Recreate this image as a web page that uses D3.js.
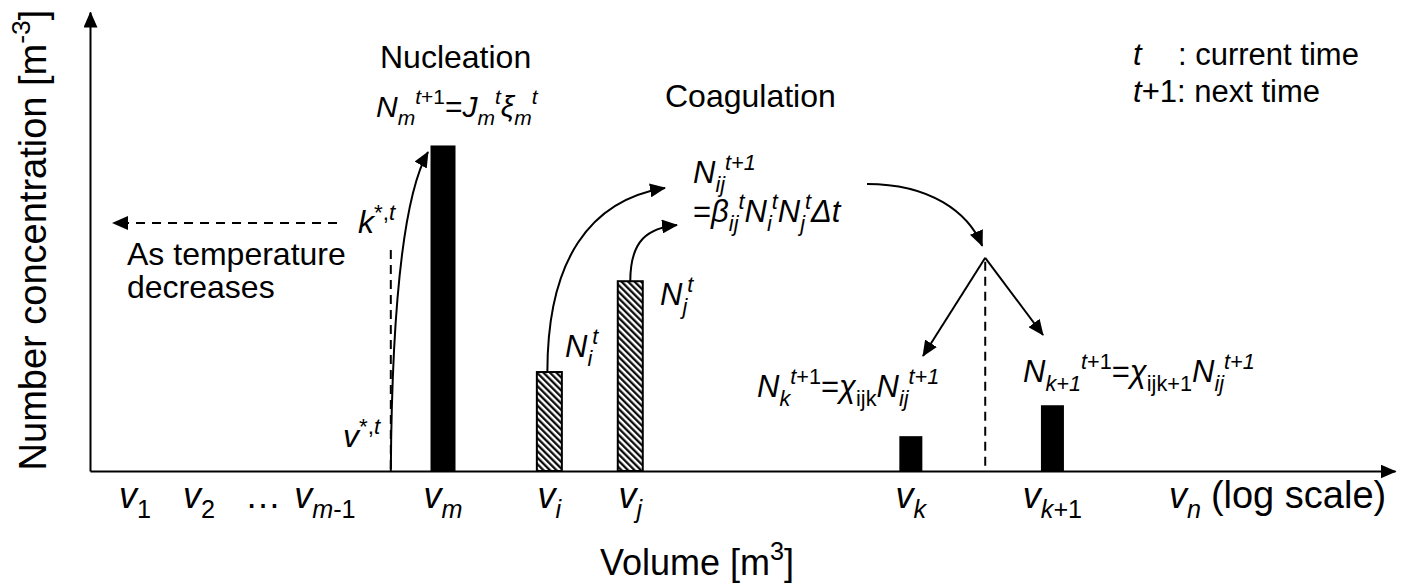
<!DOCTYPE html>
<html>
<head>
<meta charset="utf-8">
<script src="https://cdn.jsdelivr.net/npm/d3@7"></script>
<style>
  body { margin: 0; background: #fff; }
  svg { font-family: "Liberation Sans", Arial, sans-serif; }
</style>
</head>
<body>
<script>
// size bins along the (log) volume axis
const binIds = ["1", "2", "dots", "m-1", "m", "i", "j", "k", "k+1", "n"];
const binPos = [3.45, 8.35, 13.26, 18.0, 27.05, 35.2, 41.4, 62.9, 73.75, 83.9];

// bars drawn for the schematic
const barBins = ["m", "i", "j", "k", "k+1"];
const barValues = [100, 30.4, 58.3, 10.7, 20.2];
const barKinds = ["solid", "hatch", "hatch", "solid", "solid"];

// other positions on the volume axis
const vStarPos = 23.05;   // critical volume v*,t
const splitPos = 68.6;    // between v_k and v_k+1
const splitLevel = 65.5;  // height of the split point

const width = 1406, height = 584;
const svg = d3.select("body").append("svg")
	.attr("width", width)
	.attr("height", height);

const x = d3.scaleLinear().domain([0, 100]).range([90, 1395]);
const y = d3.scaleLinear().domain([0, 141]).range([471, 12]);
const posOf = id => binPos[binIds.indexOf(id)];

const defs = svg.append("defs");
defs.append("marker")
	.attr("id", "arrow")
	.attr("viewBox", "0 0 16 14")
	.attr("markerUnits", "userSpaceOnUse")
	.attr("markerWidth", 16)
	.attr("markerHeight", 14)
	.attr("refX", 15)
	.attr("refY", 7)
	.attr("orient", "auto")
	.append("path")
	.attr("d", "M0,0L16,7L0,14Z")
	.attr("fill", "#000");

const hatch = defs.append("pattern")
	.attr("id", "hatch")
	.attr("patternUnits", "userSpaceOnUse")
	.attr("width", 4.6)
	.attr("height", 4.6)
	.attr("patternTransform", "rotate(-45)");
hatch.append("rect").attr("width", 4.6).attr("height", 4.6).attr("fill", "#fff");
hatch.append("line")
	.attr("x1", 1.2).attr("x2", 1.2)
	.attr("y1", 0).attr("y2", 4.6)
	.attr("stroke", "#000")
	.attr("stroke-width", 2.2);

// text with italic / sub / sup parts; fmt: "i" italic, "_" sub, "^" sup
function rich(sel, px, py, segs, size, anchor) {
	const t = sel.append("text")
		.attr("x", px)
		.attr("y", py)
		.attr("font-size", size)
		.attr("text-anchor", anchor || "start")
		.attr("fill", "#000");
	let level = 0;
	segs.forEach(([str, fmt]) => {
		const sub = fmt.includes("_"), sup = fmt.includes("^");
		const target = sub ? size * 0.28 : sup ? -size * 0.42 : 0;
		t.append("tspan")
			.attr("dy", target - level)
			.attr("font-size", (sub || sup) ? size * 0.7 : size)
			.attr("font-style", fmt.includes("i") ? "italic" : "normal")
			.text(str);
		level = target;
	});
	return t;
}

// axes
svg.append("g")
	.attr("transform", `translate(0,${y(0)})`)
	.call(d3.axisBottom(x).tickValues([]).tickSizeOuter(0))
	.call(g => g.select(".domain").attr("stroke-width", 2).attr("marker-end", "url(#arrow)"));

svg.append("g")
	.attr("transform", `translate(${x(0)},0)`)
	.call(d3.axisLeft(y).tickValues([]).tickSizeOuter(0))
	.call(g => g.select(".domain").attr("stroke-width", 2).attr("marker-end", "url(#arrow)"));

// bars
const wide = (d, i) => barKinds[i] === "hatch" || d === "m";
svg.append("g").selectAll("rect")
	.data(barBins)
	.join("rect")
	.attr("x", (d, i) => x(posOf(d)) - (wide(d, i) ? 12.5 : 11.5))
	.attr("width", (d, i) => wide(d, i) ? 25 : 23)
	.attr("y", (d, i) => y(barValues[i]))
	.attr("height", (d, i) => y(0) - y(barValues[i]))
	.attr("fill", (d, i) => barKinds[i] === "hatch" ? "url(#hatch)" : "#000")
	.attr("stroke", (d, i) => barKinds[i] === "hatch" ? "#000" : "none")
	.attr("stroke-width", 2);

// bin labels
const labelSegs = id => {
	if (id === "dots") return [["…", ""]];
	if (id === "1" || id === "2") return [["v", "i"], [id, "_"]];
	if (id === "m-1") return [["v", "i"], ["m", "i_"], ["-1", "_"]];
	if (id === "k+1") return [["v", "i"], ["k", "i_"], ["+1", "_"]];
	return [["v", "i"], [id, "i_"]];
};
const labels = svg.append("g");
binIds.forEach((id, i) => rich(labels, x(binPos[i]), 508, labelSegs(id), 36, "middle"));
svg.append("text")
	.attr("x", x(posOf("n")) + 26)
	.attr("y", 508)
	.attr("font-size", 38)
	.text("(log scale)");

// axis titles
rich(svg, 697, 575, [["Volume [m", ""], ["3", "^"], ["]", ""]], 36, "middle");
rich(svg.append("g").attr("transform", "translate(46,240) rotate(-90)"), 0, 0,
	[["Number concentration [m", ""], ["-3", "^"], ["]", ""]], 38, "middle");

const ann = svg.append("g");

// nucleation
ann.append("text").attr("x", 380).attr("y", 68).attr("font-size", 32).text("Nucleation");
rich(ann, 376, 117, [["N", "i"], ["m", "i_"], ["t", "i^"], ["+1", "^"], ["=", ""], ["J", "i"], ["m", "i_"],
	["t", "i^"], ["ξ", "i"], ["m", "i_"], ["t", "i^"]], 30);

ann.append("line")
	.attr("x1", x(vStarPos)).attr("x2", x(vStarPos))
	.attr("y1", 250).attr("y2", y(0))
	.attr("stroke", "#000").attr("stroke-width", 2).attr("stroke-dasharray", "9,6");
ann.append("path")
	.attr("d", `M${x(vStarPos)},${y(0)}C${x(vStarPos) + 1},330 ${x(vStarPos) + 10},200 ${x(posOf("m")) - 15},152`)
	.attr("fill", "none").attr("stroke", "#000").attr("stroke-width", 2)
	.attr("marker-end", "url(#arrow)");
rich(ann, 343, 447, [["v", "i"], ["*,", "^"], ["t", "i^"]], 32);
rich(ann, 358, 233, [["k", "i"], ["*,", "^"], ["t", "i^"]], 32);

ann.append("line")
	.attr("x1", 337).attr("x2", 113)
	.attr("y1", 223).attr("y2", 223)
	.attr("stroke", "#000").attr("stroke-width", 2).attr("stroke-dasharray", "9,7")
	.attr("marker-end", "url(#arrow)");
ann.append("text").attr("x", 127).attr("y", 265).attr("font-size", 32).text("As temperature");
ann.append("text").attr("x", 127).attr("y", 298).attr("font-size", 32).text("decreases");

// coagulation
ann.append("text").attr("x", 665).attr("y", 107).attr("font-size", 32).text("Coagulation");
const iTop = [x(posOf("i")) - 2, y(barValues[1])];
const jTop = [x(posOf("j")), y(barValues[2])];
ann.append("path")
	.attr("d", `M${iTop[0]},${iTop[1]}C${iTop[0]},260 590,200 665,188`)
	.attr("fill", "none").attr("stroke", "#000").attr("stroke-width", 2)
	.attr("marker-end", "url(#arrow)");
ann.append("path")
	.attr("d", `M${jTop[0]},${jTop[1]}C${jTop[0]},240 648,228 677,225`)
	.attr("fill", "none").attr("stroke", "#000").attr("stroke-width", 2)
	.attr("marker-end", "url(#arrow)");
rich(ann, 565, 357, [["N", "i"], ["i", "i_"], ["t", "i^"]], 31);
rich(ann, 660, 305, [["N", "i"], ["j", "i_"], ["t", "i^"]], 31);
rich(ann, 693, 183, [["N", "i"], ["ij", "i_"], ["t+1", "i^"]], 31);
rich(ann, 693, 222, [["=", ""], ["β", "i"], ["ij", "i_"], ["t", "i^"], ["N", "i"], ["i", "i_"], ["t", "i^"],
	["N", "i"], ["j", "i_"], ["t", "i^"], ["Δt", "i"]], 31);

// redistribution to bins k and k+1
const apex = [x(splitPos), y(splitLevel)];
ann.append("path")
	.attr("d", `M867,184C930,184 968,212 ${apex[0] - 3},${apex[1] - 12}`)
	.attr("fill", "none").attr("stroke", "#000").attr("stroke-width", 2)
	.attr("marker-end", "url(#arrow)");
ann.append("line")
	.attr("x1", apex[0]).attr("x2", apex[0])
	.attr("y1", apex[1] + 4).attr("y2", y(0))
	.attr("stroke", "#000").attr("stroke-width", 2).attr("stroke-dasharray", "9,6");
[[923, 356], [1043, 335]].forEach(p => {
	ann.append("line")
		.attr("x1", apex[0]).attr("y1", apex[1])
		.attr("x2", p[0]).attr("y2", p[1])
		.attr("stroke", "#000").attr("stroke-width", 2)
		.attr("marker-end", "url(#arrow)");
});
rich(ann, 757, 397, [["N", "i"], ["k", "i_"], ["t", "i^"], ["+1", "^"], ["=", ""], ["χ", "i"], ["ijk", "_"],
	["N", "i"], ["ij", "i_"], ["t+1", "i^"]], 31);
rich(ann, 1023, 382, [["N", "i"], ["k+1", "i_"], ["t", "i^"], ["+1", "^"], ["=", ""], ["χ", "i"], ["ijk+1", "_"],
	["N", "i"], ["ij", "i_"], ["t+1", "i^"]], 31);

// legend
rich(ann, 1133, 65, [["t", "i"]], 31);
ann.append("text").attr("x", 1178).attr("y", 65).attr("font-size", 31).text(": current time");
rich(ann, 1133, 102, [["t", "i"], ["+1: next time", ""]], 31);
</script>
</body>
</html>
